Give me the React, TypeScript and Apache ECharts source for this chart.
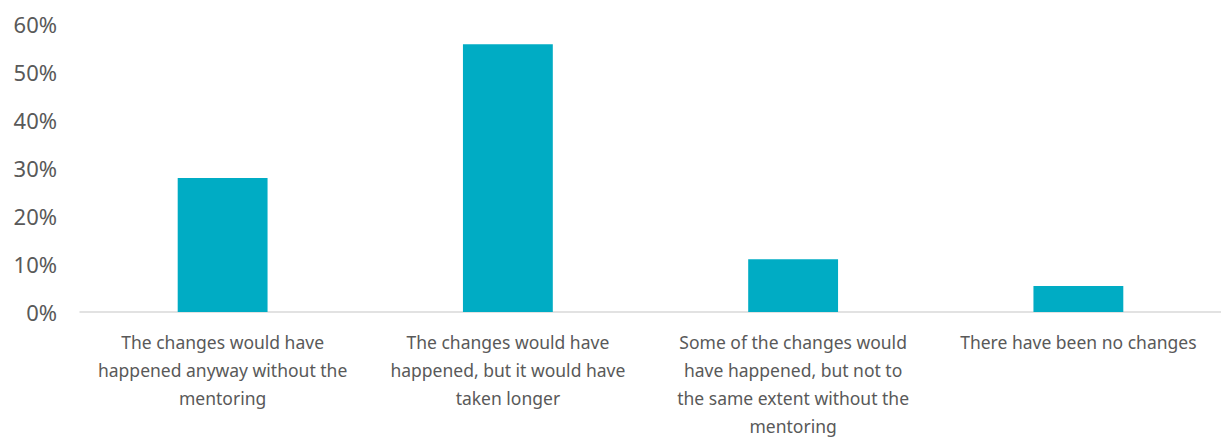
import React, { useEffect, useRef } from "react";
import * as echarts from "echarts";

const categories = [
  "The changes would have\nhappened anyway without the\nmentoring",
  "The changes would have\nhappened, but it would have\ntaken longer",
  "Some of the changes would\nhave happened, but not to\nthe same extent without the\nmentoring",
  "There have been no changes",
];
const values = [27.9, 55.8, 11.0, 5.4];
const yTicks = { min: 0, max: 60, interval: 10 };

export default function App() {
  const ref = useRef<HTMLDivElement>(null);
  useEffect(() => {
    if (!ref.current) return;
    const chart = echarts.init(ref.current, undefined, { renderer: "svg" });
    chart.setOption({
      animation: false,
      textStyle: { fontFamily: "Noto Sans" },
      grid: {
        left: 72,
        right: 0,
        top: 16,
        bottom: 129,
        containLabel: false,
        outerBoundsMode: "none",
      },
      xAxis: {
        type: "category",
        data: categories,
        axisLine: { lineStyle: { color: "#d9d9d9", width: 1.5 } },
        axisTick: { show: false },
        axisLabel: {
          interval: 0,
          color: "#595959",
          fontSize: 17.5,
          lineHeight: 28,
          margin: 16,
          fontFamily: "Noto Sans",
        },
      },
      yAxis: {
        type: "value",
        min: yTicks.min,
        max: yTicks.max,
        interval: yTicks.interval,
        splitLine: { show: false },
        axisLine: { show: false },
        axisTick: { show: false },
        axisLabel: {
          color: "#595959",
          fontSize: 22,
          margin: 23,
          formatter: (v: number) => `${v}%`,
          fontFamily: "Noto Sans",
        },
      },
      series: [
        {
          type: "bar",
          data: values,
          barWidth: "31.5%",
          itemStyle: { color: "#00acc4" },
        },
      ],
    });
    return () => chart.dispose();
  }, []);
  return <div ref={ref} style={{ width: 1213, height: 433 }} />;
}
